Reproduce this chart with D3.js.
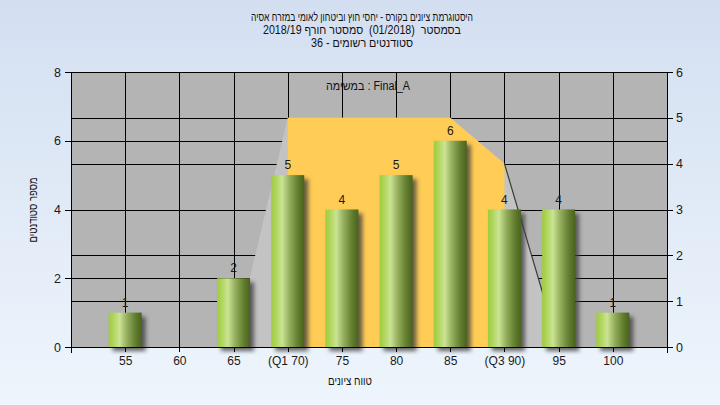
<!DOCTYPE html>
<html><head><meta charset="utf-8">
<script src="https://cdn.jsdelivr.net/npm/d3@7"></script>
<style>html,body{margin:0;padding:0;overflow:hidden}svg{display:block}</style>
</head><body>
<script>
const categories = [55, 60, 65, 70, 75, 80, 85, 90, 95, 100];
const tickLabels = ["55", "60", "65", "(Q1 70)", "75", "80", "85", "(Q3 90)", "95", "100"];
const counts = [1, 0, 2, 5, 4, 5, 6, 4, 4, 1];
const areaX = [65, 70, 75, 80, 85, 90, 95];
const areaVals = [0, 5, 5, 5, 5, 4, 0];
const q1 = 70, q3 = 90;
const leftTicks = [0, 2, 4, 6, 8];
const rightTicks = [0, 1, 2, 3, 4, 5, 6];
const titleLines = [
  "היסטוגרמת ציונים בקורס - יחסי חוץ וביטחון לאומי במזרח אסיה",
  "בסמסטר  (01/2018)  סמסטר חורף 2018/19",
  "סטודנטים רשומים - 36"
];
const titleWidths = [222, 198, 102];
const legendText = "במשימה : Final_A";
const yTitle = "מספר סטודנטים";
const xTitle = "טווח ציונים";

const W = 720, H = 405;
const L = 71, R = 667, T = 72, B = 347;
const font = "'Liberation Sans', Arial, sans-serif";

const svg = d3.select("body").append("svg").attr("width", W).attr("height", H);
const defs = svg.append("defs");
const bg = defs.append("linearGradient").attr("id", "bg").attr("x1", 0).attr("y1", 0).attr("x2", 0).attr("y2", 1);
bg.append("stop").attr("offset", "0%").attr("stop-color", "#d3dff1");
bg.append("stop").attr("offset", "100%").attr("stop-color", "#eef5fc");
const bar = defs.append("linearGradient").attr("id", "bar").attr("x1", 0).attr("y1", 0).attr("x2", 1).attr("y2", 0);
[["0%", "#9fcc3e"], ["12%", "#acd456"], ["33%", "#cbe394"], ["55%", "#95af5e"], ["80%", "#637f30"], ["100%", "#4a621e"]]
  .forEach(s => bar.append("stop").attr("offset", s[0]).attr("stop-color", s[1]));
const blur = defs.append("filter").attr("id", "blur").attr("x", "-50%").attr("y", "-50%").attr("width", "200%").attr("height", "200%");
blur.append("feGaussianBlur").attr("stdDeviation", 2);
defs.append("clipPath").attr("id", "plotclip").append("rect").attr("x", L).attr("y", T).attr("width", R - L).attr("height", B - T + 8);

svg.append("rect").attr("width", W).attr("height", H).attr("fill", "url(#bg)");

const x = d3.scaleLinear().domain([50, 105]).range([L, R]);
const yL = d3.scaleLinear().domain([0, 8]).range([B, T]);
const yR = d3.scaleLinear().domain([0, 6]).range([B, T]);

// plot background
svg.append("rect").attr("x", L).attr("y", T).attr("width", R - L).attr("height", B - T).attr("fill", "#b4b4b4");

// gridlines
const grid = svg.append("g").attr("stroke", "#000").attr("stroke-width", 1).attr("shape-rendering", "crispEdges");
leftTicks.forEach(v => grid.append("line").attr("x1", L).attr("x2", R).attr("y1", Math.round(yL(v)) + 0.5).attr("y2", Math.round(yL(v)) + 0.5));
rightTicks.forEach(v => grid.append("line").attr("x1", L).attr("x2", R).attr("y1", Math.round(yR(v)) + 0.5).attr("y2", Math.round(yR(v)) + 0.5));
categories.forEach(c => grid.append("line").attr("x1", Math.round(x(c)) + 0.5).attr("x2", Math.round(x(c)) + 0.5).attr("y1", T).attr("y2", B));

// area (quartile band)
const pts = areaX.map((d, i) => [d, areaVals[i]]);
const area = d3.area().x(d => x(d[0])).y0(B).y1(d => yR(d[1]));
svg.append("path").attr("d", area(pts)).attr("fill", "#c3c3c3");
defs.append("clipPath").attr("id", "qclip").append("rect").attr("x", x(q1)).attr("y", T).attr("width", x(q3) - x(q1)).attr("height", B - T);
svg.append("path").attr("d", area(pts)).attr("fill", "#ffcc55").attr("clip-path", "url(#qclip)");
const lastTwo = pts.slice(-2);
svg.append("path").attr("d", d3.line().x(d => x(d[0])).y(d => yR(d[1]))(lastTwo)).attr("stroke", "#3a3a3a").attr("stroke-width", 1.2).attr("fill", "none");

// legend text
svg.append("text").attr("x", 368).attr("y", 90).attr("text-anchor", "middle").attr("font-family", font).attr("font-size", 12)
  .attr("textLength", 84).attr("lengthAdjust", "spacingAndGlyphs").attr("fill", "#111").text(legendText);

// bars
const bw = 33;
const data = categories.map((c, i) => ({c, v: counts[i]})).filter(d => d.v > 0);
const sh = svg.append("g").attr("clip-path", "url(#plotclip)");
sh.selectAll("rect").data(data).join("rect")
  .attr("x", d => x(d.c) - bw / 2 + 4).attr("y", d => yL(d.v) + 4)
  .attr("width", bw).attr("height", d => B - yL(d.v))
  .attr("fill", "#404040").attr("opacity", 0.8).attr("filter", "url(#blur)");
svg.append("g").selectAll("rect").data(data).join("rect")
  .attr("x", d => x(d.c) - bw / 2).attr("y", d => yL(d.v))
  .attr("width", bw).attr("height", d => B - yL(d.v))
  .attr("fill", "url(#bar)");
svg.append("g").selectAll("text").data(data).join("text")
  .attr("x", d => x(d.c)).attr("y", d => yL(d.v) - 6)
  .attr("text-anchor", "middle").attr("font-family", font).attr("font-size", 12).attr("fill", "#1a1a1a")
  .text(d => d.v);

// axes
const axL = svg.append("g").attr("transform", `translate(${L},0)`)
  .call(d3.axisLeft(yL).tickValues(leftTicks).tickSize(6).tickPadding(4).tickFormat(d3.format("d")));
const axR = svg.append("g").attr("transform", `translate(${R},0)`)
  .call(d3.axisRight(yR).tickValues(rightTicks).tickSize(6).tickPadding(3).tickFormat(d3.format("d")));
const axB = svg.append("g").attr("transform", `translate(0,${B})`)
  .call(d3.axisBottom(x).tickValues(categories).tickSize(5).tickPadding(4).tickFormat((d, i) => tickLabels[i]));
[axL, axR, axB].forEach(a => {
  a.selectAll("path").attr("stroke", "#000").attr("shape-rendering", "crispEdges");
  a.selectAll("line").attr("stroke", "#000").attr("shape-rendering", "crispEdges");
  a.selectAll("text").attr("font-family", font).attr("font-size", 12.5).attr("fill", "#1a1a1a");
});
axL.select(".domain").attr("d", `M0,${T}V${B + 6}`);
axR.select(".domain").attr("d", `M0,${T}V${B + 6}`);
axB.select(".domain").attr("d", `M${L},0H${R}`);
axB.selectAll("text").attr("font-size", 12);

// titles
titleLines.forEach((t, i) => {
  svg.append("text").attr("x", 362).attr("y", 21 + i * 13).attr("text-anchor", "middle")
    .style("direction", "rtl").style("unicode-bidi", "embed").style("white-space", "pre")
    .attr("textLength", titleWidths[i]).attr("lengthAdjust", "spacingAndGlyphs")
    .attr("font-family", font).attr("font-size", 12).attr("fill", "#111").text(t);
});
svg.append("text").attr("transform", "translate(37,210) rotate(-90)").attr("text-anchor", "middle")
  .attr("textLength", 65).attr("lengthAdjust", "spacingAndGlyphs")
  .attr("font-family", font).attr("font-size", 12).attr("fill", "#111").text(yTitle);
svg.append("text").attr("x", 350).attr("y", 385).attr("text-anchor", "middle")
  .attr("textLength", 44).attr("lengthAdjust", "spacingAndGlyphs")
  .attr("font-family", font).attr("font-size", 12).attr("fill", "#111").text(xTitle);
</script>
</body></html>
